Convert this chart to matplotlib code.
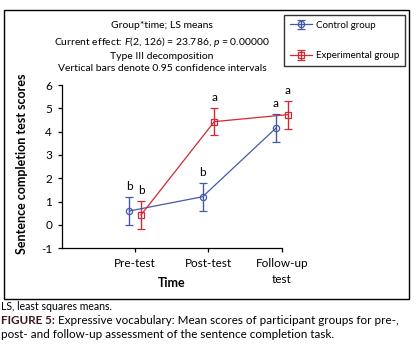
import matplotlib
matplotlib.use("Agg")
from matplotlib import pyplot as plt
from matplotlib.patches import Rectangle

plt.rcParams['font.family'] = ['Lato', 'DejaVu Sans']
plt.rcParams['mathtext.fontset'] = 'custom'
plt.rcParams['mathtext.rm'] = 'Lato'
plt.rcParams['mathtext.it'] = 'Lato:italic'
plt.rcParams['axes.unicode_minus'] = False

# data
times = ["Pre-test", "Post-test", "Follow-up\ntest"]
control_mean = [0.60, 1.21, 4.15]
control_ci = [0.60, 0.60, 0.60]
control_letters = ["b", "b", "a"]
exp_mean = [0.43, 4.43, 4.73]
exp_ci = [0.59, 0.59, 0.60]
exp_letters = ["b", "a", "a"]

blue = "#4659a6"
red = "#d02a34"

fig = plt.figure(figsize=(4.18, 3.52), dpi=100)
ax = fig.add_axes([0.148, 0.2946, 0.526, 0.4639])

x = [1, 2, 3]
off = 0.08
xc = [v - off for v in x]
xe = [v + off for v in x]

ax.errorbar(xc, control_mean, yerr=control_ci, fmt='-o', color=blue,
            mfc='none', ms=4.5, mew=0.9, lw=0.9, elinewidth=1.0,
            capsize=2.6, capthick=1.0, clip_on=False, label="Control group")
ax.errorbar(xe, exp_mean, yerr=exp_ci, fmt='-s', color=red,
            mfc='none', ms=4.2, mew=0.9, lw=0.9, elinewidth=1.0,
            capsize=2.6, capthick=1.0, clip_on=False, label="Experimental group")

for xi, m, c, t in zip(xc, control_mean, control_ci, control_letters):
    ax.annotate(t, (xi, m + c), xytext=(0, 7.5), textcoords='offset points',
                ha='center', va='center', fontsize=8.5, annotation_clip=False)
for xi, m, c, t in zip(xe, exp_mean, exp_ci, exp_letters):
    ax.annotate(t, (xi, m + c), xytext=(0, 7.5), textcoords='offset points',
                ha='center', va='center', fontsize=8.5, annotation_clip=False)

ax.set_xlim(0, 3)
ax.set_ylim(-1, 6)
ax.set_xticks(x)
ax.set_xticklabels(times, fontsize=8.5, linespacing=1.5)
ax.set_yticks(range(-1, 7))
ax.tick_params(axis='y', labelsize=8.5, length=3, width=0.9, pad=4)
ax.tick_params(axis='x', length=3, width=0.9, pad=4)
for s in ['top', 'right']:
    ax.spines[s].set_visible(False)
for s in ['left', 'bottom']:
    ax.spines[s].set_linewidth(0.9)

ax.set_xlabel("Time", fontsize=9, fontweight='bold', va='center')
ax.xaxis.set_label_coords(0.5, -0.212)
ax.set_ylabel("Sentence completion test scores", fontsize=9,
              fontweight='bold', va='center')
ax.yaxis.set_label_coords(-0.18, 0.52)

title = ("Group*time; LS means\n"
         "Current effect: $F$(2, 126) = 23.786, $p$ = 0.00000\n"
         "Type III decomposition\n"
         "Vertical bars denote 0.95 confidence intervals")
fig.text(162 / 418, 1 - 47 / 352, title, ha='center', va='center',
         fontsize=7.5, linespacing=1.42)

leg = fig.legend(loc='upper left', bbox_to_anchor=(284 / 418, 1 - 15 / 352),
                 fontsize=7.0, frameon=True, fancybox=False, edgecolor='black',
                 handlelength=2.3, labelspacing=2.2, borderpad=0.6,
                 handletextpad=0.4, borderaxespad=0)
leg.get_frame().set_linewidth(1.0)

# outer frame
fig.patches.append(Rectangle((4 / 418, 1 - 299 / 352), 405 / 418, 289 / 352,
                             transform=fig.transFigure, fill=False,
                             edgecolor='black', lw=1.0))

fig.text(1 / 418, 1 - 306 / 352, "LS, least squares means.",
         ha='left', va='center', fontsize=7.6)
lab = fig.text(1 / 418, 1 - 321 / 352, "FIGURE 5:", ha='left', va='center',
               fontsize=8.4, fontweight='bold', color='#3a1a1a')
fig.canvas.draw()
bb = lab.get_window_extent()
fig.text((bb.x1 + 3) / 418, 1 - 321 / 352,
         "Expressive vocabulary: Mean scores of participant groups for pre-,",
         ha='left', va='center', fontsize=8.4)
fig.text(1 / 418, 1 - 335 / 352,
         "post- and follow-up assessment of the sentence completion task.",
         ha='left', va='center', fontsize=8.4)

fig.savefig("out.png", dpi=100)
